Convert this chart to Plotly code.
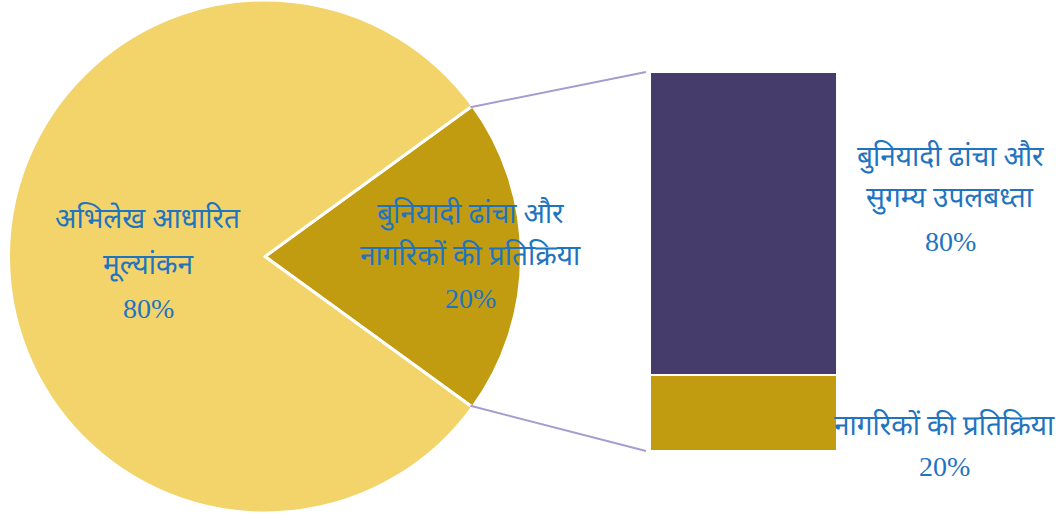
import math
import plotly.graph_objects as go

# ---- data ----
pie_labels = ["बुनियादी ढांचा और नागरिकों की प्रतिक्रिया", "अभिलेख आधारित मूल्यांकन"]
pie_label_lines = [["बुनियादी ढांचा और", "नागरिकों की प्रतिक्रिया"], ["अभिलेख आधारित", "मूल्यांकन"]]
pie_values = [20, 80]
bar_labels = ["नागरिकों की प्रतिक्रिया", "बुनियादी ढांचा और सुगम्य उपलबध्ता"]
bar_label_lines = [["नागरिकों की प्रतिक्रिया"], ["बुनियादी ढांचा और", "सुगम्य उपलबध्ता"]]
bar_values = [20, 80]

W, H = 1064, 513
pie_colors = ["#C19B10", "#F2D46B"]
bar_colors = ["#C19B10", "#463C6B"]
text_color = "#1F74C0"
FONT = "Liberation Serif, Noto Sans Devanagari, Noto Sans, serif"

# pie geometry (pixels)
cx, cy_px, R = 265, 256.5, 256.5
total = sum(pie_values)
half_angle = 180 * pie_values[0] / total  # degrees
fig = go.Figure()
fig.add_trace(go.Pie(
    labels=pie_labels, values=pie_values, sort=False, direction="clockwise",
    rotation=90 - half_angle,
    marker=dict(colors=pie_colors, line=dict(color="white", width=3)),
    textinfo="none", hoverinfo="label+percent", showlegend=False,
    domain=dict(x=[(cx - R) / W, (cx + R) / W], y=[0, 1]),
))

# bar geometry
bar_left, bar_right, bar_top, bar_bottom = 650, 837, 72, 451
fig.add_trace(go.Bar(x=[0], y=[bar_values[0]], marker=dict(color=bar_colors[0], line=dict(color="white", width=2)),
                     xaxis="x", yaxis="y", showlegend=False, width=1, name=bar_labels[0]))
fig.add_trace(go.Bar(x=[0], y=[bar_values[1]], marker=dict(color=bar_colors[1], line=dict(color="white", width=2)),
                     xaxis="x", yaxis="y", showlegend=False, width=1, name=bar_labels[1]))

fig.update_layout(
    width=W, height=H, margin=dict(l=0, r=0, t=0, b=0),
    paper_bgcolor="white", plot_bgcolor="rgba(0,0,0,0)",
    barmode="stack", bargap=0,
    xaxis=dict(domain=[bar_left / W, bar_right / W], range=[-0.5, 0.5], visible=False, fixedrange=True),
    yaxis=dict(domain=[(H - bar_bottom) / H, (H - bar_top) / H], range=[0, sum(bar_values)], visible=False, fixedrange=True),
)

# connector lines from slice edge points to bar corners
a = math.radians(half_angle)
r_edge = R * 0.99
p_top = (cx + r_edge * math.cos(a), cy_px - r_edge * math.sin(a))
p_bot = (cx + r_edge * math.cos(a), cy_px + r_edge * math.sin(a))
line_col = "#A89CCF"
for (px, py), (qx, qy) in [(p_top, (bar_left - 4, bar_top)), (p_bot, (bar_left - 4, bar_bottom))]:
    fig.add_shape(type="line", xref="paper", yref="paper",
                  x0=px / W, y0=1 - py / H, x1=qx / W, y1=1 - qy / H,
                  line=dict(color=line_col, width=2))

def add_lines(lines, x, ys, size=28):
    for t, y in zip(lines, ys):
        fig.add_annotation(text=t, x=x / W, y=1 - y / H, xref="paper", yref="paper",
                           showarrow=False, xanchor="center", yanchor="middle",
                           font=dict(family=FONT, size=size, color=text_color))

pct = [f"{round(100 * v / total)}%" for v in pie_values]
bpct = [f"{round(100 * v / sum(bar_values))}%" for v in bar_values]
add_lines(pie_label_lines[1] + [pct[1]], 148, [218, 265, 308])
add_lines(pie_label_lines[0] + [pct[0]], 470, [214, 255, 298])
add_lines(bar_label_lines[1] + [bpct[1]], 950, [157, 199, 241])
add_lines(bar_label_lines[0] + [bpct[0]], 944, [425, 466])

fig.write_html("out.html")
